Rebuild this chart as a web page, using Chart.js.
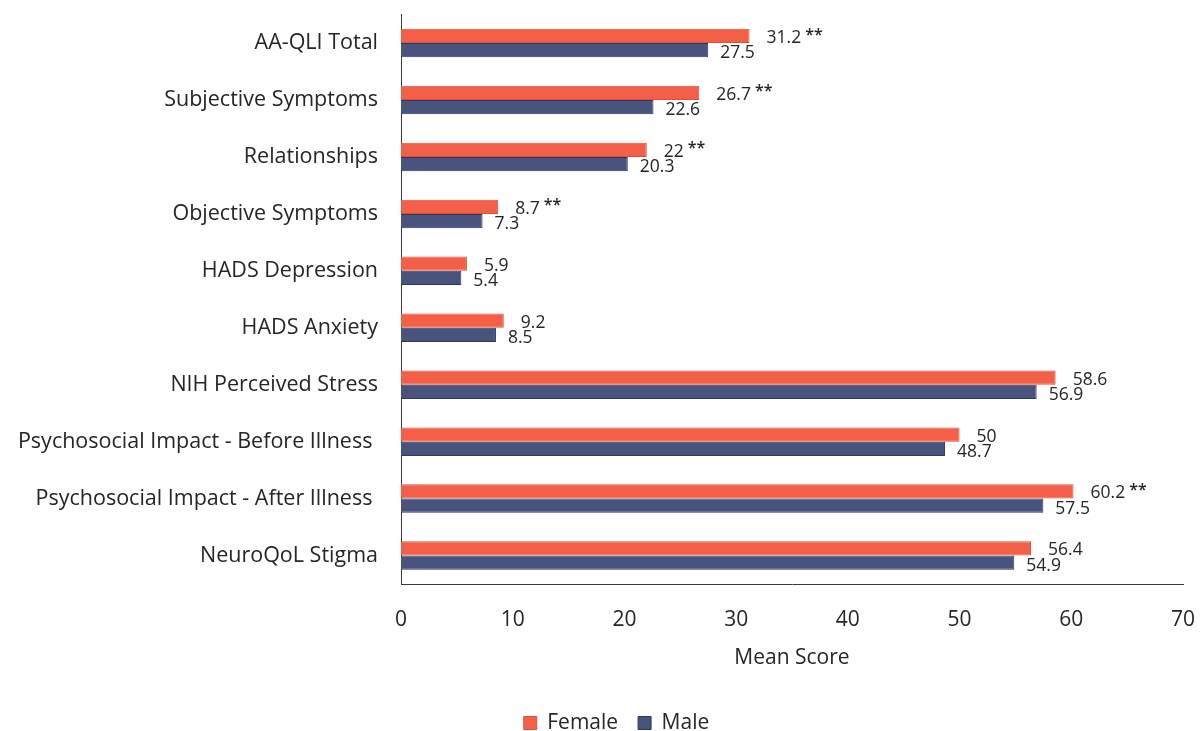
<!DOCTYPE html>
<html>
<head>
<meta charset="utf-8">
<script src="https://cdn.jsdelivr.net/npm/chart.js@4"></script>
<style>
  html, body { margin: 0; padding: 0; background: #fff; }
  #wrap { width: 1200px; height: 731px; }
</style>
</head>
<body>
<div id="wrap"><canvas id="myChart"></canvas></div>
<script>
// data
const categories = [
  'AA-QLI Total',
  'Subjective Symptoms',
  'Relationships',
  'Objective Symptoms',
  'HADS Depression',
  'HADS Anxiety',
  'NIH Perceived Stress',
  'Psychosocial Impact - Before Illness ',
  'Psychosocial Impact - After Illness ',
  'NeuroQoL Stigma'
];
const femaleScores = [31.2, 26.7, 22, 8.7, 5.9, 9.2, 58.6, 50, 60.2, 56.4];
const maleScores = [27.5, 22.6, 20.3, 7.3, 5.4, 8.5, 56.9, 48.7, 57.5, 54.9];
const femaleSig = ['**', '**', '**', '**', '', '', '', '', '**', ''];
const xTicks = [0, 10, 20, 30, 40, 50, 60, 70];

const fontFam = '"Open Sans", sans-serif';
const textCol = '#262626';

// value labels next to the bar ends, with significance stars
const valueLabels = {
  id: 'valueLabels',
  afterDatasetsDraw(chart) {
    const ctx = chart.ctx;
    ctx.save();
    ctx.fillStyle = textCol;
    ctx.textBaseline = 'middle';
    ctx.textAlign = 'left';
    chart.data.datasets.forEach((ds, di) => {
      const meta = chart.getDatasetMeta(di);
      meta.data.forEach((bar, i) => {
        const txt = String(ds.data[i]);
        const isFemale = di === 0;
        const x = bar.x + (isFemale ? 17 : 12);
        const y = bar.y + (isFemale ? 2 : 3);
        ctx.font = '17.5px ' + fontFam;
        ctx.fillText(txt, x, y);
        if (isFemale && femaleSig[i]) {
          const w = ctx.measureText(txt).width;
          ctx.font = '600 16px ' + fontFam;
          ctx.fillText(femaleSig[i], x + w + 4, y - 3);
        }
      });
    });
    ctx.restore();
  }
};

// nudge the legend to where it sits in the original
const moveLegend = {
  id: 'moveLegend',
  afterLayout(chart) {
    const lg = chart.legend;
    if (!lg) return;
    const dx = 25;
    const dy = 718 - (lg.top + lg.height / 2);
    lg.left += dx; lg.right += dx;
    lg.top += dy; lg.bottom += dy;
  }
};

var ctx = document.getElementById('myChart');
var myChart = new Chart(ctx, {
  type: 'bar',
  data: {
    labels: categories,
    datasets: [{
      label: 'Female',
      data: femaleScores,
      backgroundColor: '#F35F47',
      borderColor: '#D9503C',
      borderWidth: 1,
      borderSkipped: 'start',
      categoryPercentage: 0.5,
      barPercentage: 1.0
    }, {
      label: 'Male',
      data: maleScores,
      backgroundColor: '#48547E',
      borderColor: '#2E3858',
      borderWidth: 1,
      borderSkipped: 'start',
      categoryPercentage: 0.5,
      barPercentage: 1.0
    }]
  },
  options: {
    indexAxis: 'y',
    responsive: true,
    maintainAspectRatio: false,
    animation: false,
    layout: { padding: { top: 14.6, right: 17, left: 0, bottom: 0 } },
    scales: {
      x: {
        min: 0,
        max: 70,
        afterBuildTicks: (scale) => { scale.ticks = xTicks.map(v => ({ value: v })); },
        afterFit: (scale) => {
          scale.height = 96;
          scale.paddingLeft = 0;
          scale.paddingRight = 0;
        },
        grid: { display: false, drawTicks: false },
        border: { display: true, color: '#3a3a3a', width: 1 },
        ticks: { color: textCol, font: { family: fontFam, size: 21 }, padding: 23.5 },
        title: {
          display: true,
          text: 'Mean Score',
          color: textCol,
          font: { family: fontFam, size: 21 },
          padding: { top: 8, bottom: 9 }
        }
      },
      y: {
        afterFit: (scale) => {
          scale.width = 401;
          scale.paddingTop = 0;
          scale.paddingBottom = 0;
        },
        grid: { display: false, drawTicks: false },
        border: { display: true, color: '#3a3a3a', width: 1 },
        ticks: { color: textCol, font: { family: fontFam, size: 21.5 }, padding: 23 }
      }
    },
    plugins: {
      legend: {
        position: 'bottom',
        labels: {
          color: textCol,
          font: { family: fontFam, size: 21 },
          boxWidth: 13,
          boxHeight: 13,
          padding: 20
        }
      },
      tooltip: { enabled: false }
    }
  },
  plugins: [valueLabels, moveLegend]
});
</script>
</body>
</html>
